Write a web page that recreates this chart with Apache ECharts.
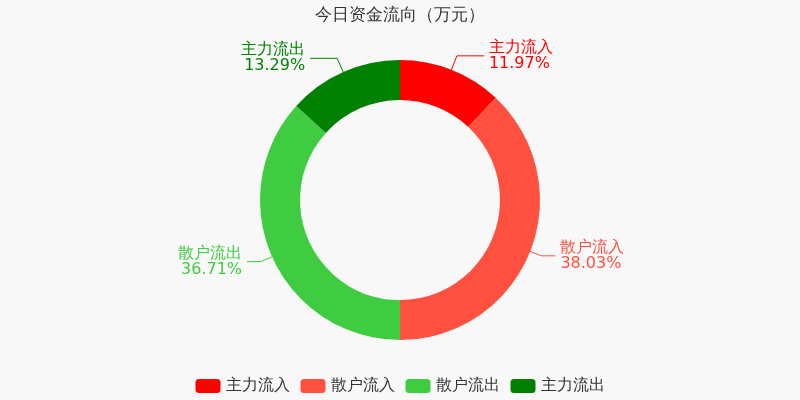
<!DOCTYPE html>
<html>
<head>
<meta charset="utf-8">
<script src="https://cdn.jsdelivr.net/npm/echarts@6/dist/echarts.min.js"></script>
<style>
  html, body { margin: 0; padding: 0; background: #f8f8f8; }
  #chart { width: 800px; height: 400px; }
</style>
</head>
<body>
<div id="chart"></div>
<script>
// slice names and shares (%)
const names = ['主力流入', '散户流入', '散户流出', '主力流出']
const shares = [11.97, 38.03, 36.71, 13.29]
const colors = ['#ff0000', '#ff5040', '#40cc40', '#008000']
// the two small top slices have longer label lines in the reference
const lineLen = [[15, 27], [12, 14], [12, 14], [15, 27]]

const chart = echarts.init(document.getElementById('chart'))

const data = names.map((n, i) => ({
  name: n,
  value: shares[i],
  itemStyle: { color: colors[i] },
  label: { color: colors[i] },
  labelLine: {
    length: lineLen[i][0],
    length2: lineLen[i][1],
    lineStyle: { color: colors[i] }
  }
}))

chart.setOption({
  backgroundColor: '#f8f8f8',
  textStyle: { fontFamily: 'DejaVu Sans, sans-serif' },
  title: {
    text: '今日资金流向（万元）',
    left: 'center',
    top: 2,
    textStyle: { fontSize: 17, fontWeight: 'normal', color: '#333' }
  },
  legend: {
    bottom: 1,
    itemWidth: 25,
    itemHeight: 14,
    itemGap: 11,
    textStyle: { fontSize: 16, color: '#333' },
    data: names
  },
  series: [{
    type: 'pie',
    center: ['50%', '50%'],
    radius: [100, 140],
    startAngle: 90,
    avoidLabelOverlap: true,
    label: {
      formatter: '{b}\n{d}%',
      fontSize: 16,
      lineHeight: 16
    },
    data: data
  }]
})
</script>
</body>
</html>
